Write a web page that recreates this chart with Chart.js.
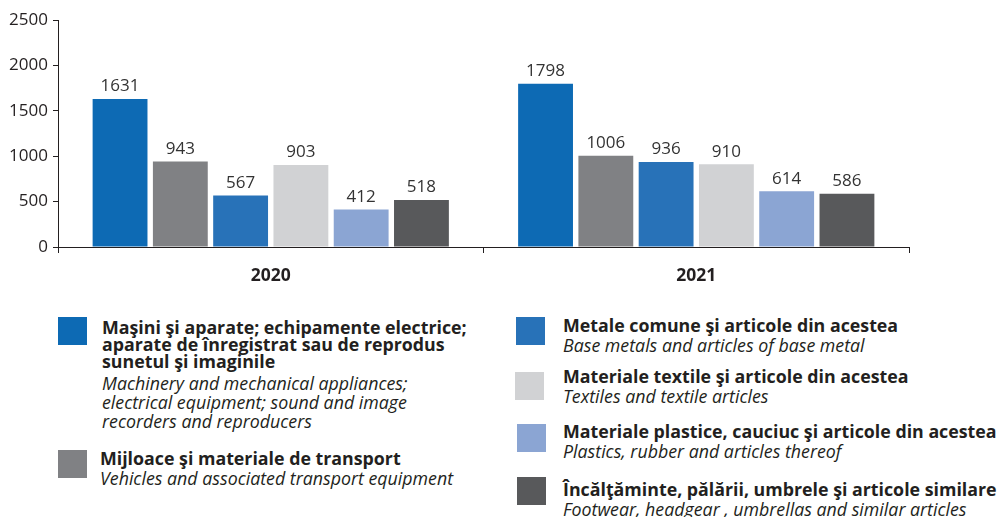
<!DOCTYPE html>
<html>
<head>
<meta charset="utf-8">
<script src="https://cdn.jsdelivr.net/npm/chart.js@4"></script>
<style>
  html, body { margin: 0; padding: 0; background: #fff; }
  body { width: 999px; height: 517px; position: relative; overflow: hidden; font-family: "Open Sans", sans-serif; color: #231f20; }
  #wrap { position: absolute; left: 0; top: 0; width: 999px; height: 300px; }
  .sq { position: absolute; width: 29px; height: 28px; }
  .item { position: absolute; white-space: nowrap; }
  .b { font-weight: 700; font-size: 17.8px; line-height: 17px; }
  .i { font-style: italic; font-size: 17.8px; line-height: 19px; margin-top: 2px; }
</style>
</head>
<body>
<div id="wrap"><canvas id="c"></canvas></div>

<div class="sq" style="left:58px;top:317px;background:#0d6ab4"></div>
<div class="item" style="left:102px;top:319px">
  <div class="b">Maşini şi aparate; echipamente electrice;<br>aparate de înregistrat sau de reprodus<br>sunetul şi imaginile</div>
  <div class="i" style="margin-top:4px">Machinery and mechanical appliances;<br>electrical equipment; sound and image<br>recorders and reproducers</div>
</div>

<div class="sq" style="left:58px;top:450px;background:#808184"></div>
<div class="item" style="left:100px;top:450px">
  <div class="b">Mijloace şi materiale de transport</div>
  <div class="i">Vehicles and associated transport equipment</div>
</div>

<div class="sq" style="left:516px;top:317px;background:#2872b8"></div>
<div class="item" style="left:563px;top:317px">
  <div class="b">Metale comune şi articole din acestea</div>
  <div class="i">Base metals and articles of base metal</div>
</div>

<div class="sq" style="left:515px;top:372px;background:#d1d2d4"></div>
<div class="item" style="left:563px;top:368px">
  <div class="b">Materiale textile şi articole din acestea</div>
  <div class="i">Textiles and textile articles</div>
</div>

<div class="sq" style="left:517px;top:424px;background:#8ba5d3"></div>
<div class="item" style="left:563px;top:423px">
  <div class="b">Materiale plastice, cauciuc şi articole din acestea</div>
  <div class="i">Plastics, rubber and articles thereof</div>
</div>

<div class="sq" style="left:517px;top:477px;background:#58595b"></div>
<div class="item" style="left:563px;top:481px">
  <div class="b">Încălţăminte, pălării, umbrele şi articole similare</div>
  <div class="i">Footwear, headgear , umbrellas and similar articles</div>
</div>

<script>
const years = ["2020", "2021"];
const seriesNames = [
  "Maşini şi aparate; echipamente electrice",
  "Mijloace şi materiale de transport",
  "Metale comune şi articole din acestea",
  "Materiale textile şi articole din acestea",
  "Materiale plastice, cauciuc şi articole din acestea",
  "Încălţăminte, pălării, umbrele şi articole similare"
];
const machinery = [1631, 1798];
const vehicles = [943, 1006];
const metals = [567, 936];
const textiles = [903, 910];
const plastics = [412, 614];
const footwear = [518, 586];
const yTicks = [0, 500, 1000, 1500, 2000, 2500];

const colors = ["#0d6ab4", "#808184", "#2872b8", "#d1d2d4", "#8ba5d3", "#58595b"];
const allValues = [machinery, vehicles, metals, textiles, plastics, footwear];

const valueLabels = {
  id: "valueLabels",
  afterDatasetsDraw(chart) {
    const ctx = chart.ctx;
    ctx.save();
    ctx.font = '17px "Open Sans", sans-serif';
    ctx.fillStyle = "#333333";
    ctx.textAlign = "center";
    ctx.textBaseline = "bottom";
    chart.data.datasets.forEach((ds, di) => {
      const meta = chart.getDatasetMeta(di);
      meta.data.forEach((el, i) => {
        ctx.fillText(String(ds.data[i]), el.x, el.y - 4);
      });
    });
    ctx.restore();
  }
};

new Chart(document.getElementById("c"), {
  type: "bar",
  data: {
    labels: years,
    datasets: allValues.map((v, k) => ({
      label: seriesNames[k],
      data: v,
      backgroundColor: colors[k],
      borderWidth: 0,
      categoryPercentage: 0.85,
      barPercentage: 0.91
    }))
  },
  options: {
    responsive: true,
    maintainAspectRatio: false,
    animation: false,
    layout: { padding: { top: 20, right: 90, left: 0, bottom: 0 } },
    plugins: { legend: { display: false }, tooltip: { enabled: false } },
    scales: {
      x: {
        grid: { display: true, offset: true, drawOnChartArea: false, tickLength: 6, color: "#231f20" },
        border: { color: "#231f20", width: 1 },
        ticks: { color: "#231f20", font: { family: "Open Sans", size: 17.5, weight: "bold" }, padding: 13 }
      },
      y: {
        min: 0, max: 2500,
        afterFit(scale) { scale.width = 58; },
        afterBuildTicks(scale) { scale.ticks = yTicks.map(v => ({ value: v })); },
        grid: { display: true, drawOnChartArea: false, tickLength: 5, color: "#231f20" },
        border: { color: "#231f20", width: 1 },
        ticks: {
          color: "#231f20", font: { family: "Open Sans", size: 17 }, padding: 5,
          callback: (v) => String(v)
        }
      }
    }
  },
  plugins: [valueLabels]
});
</script>
</body>
</html>
